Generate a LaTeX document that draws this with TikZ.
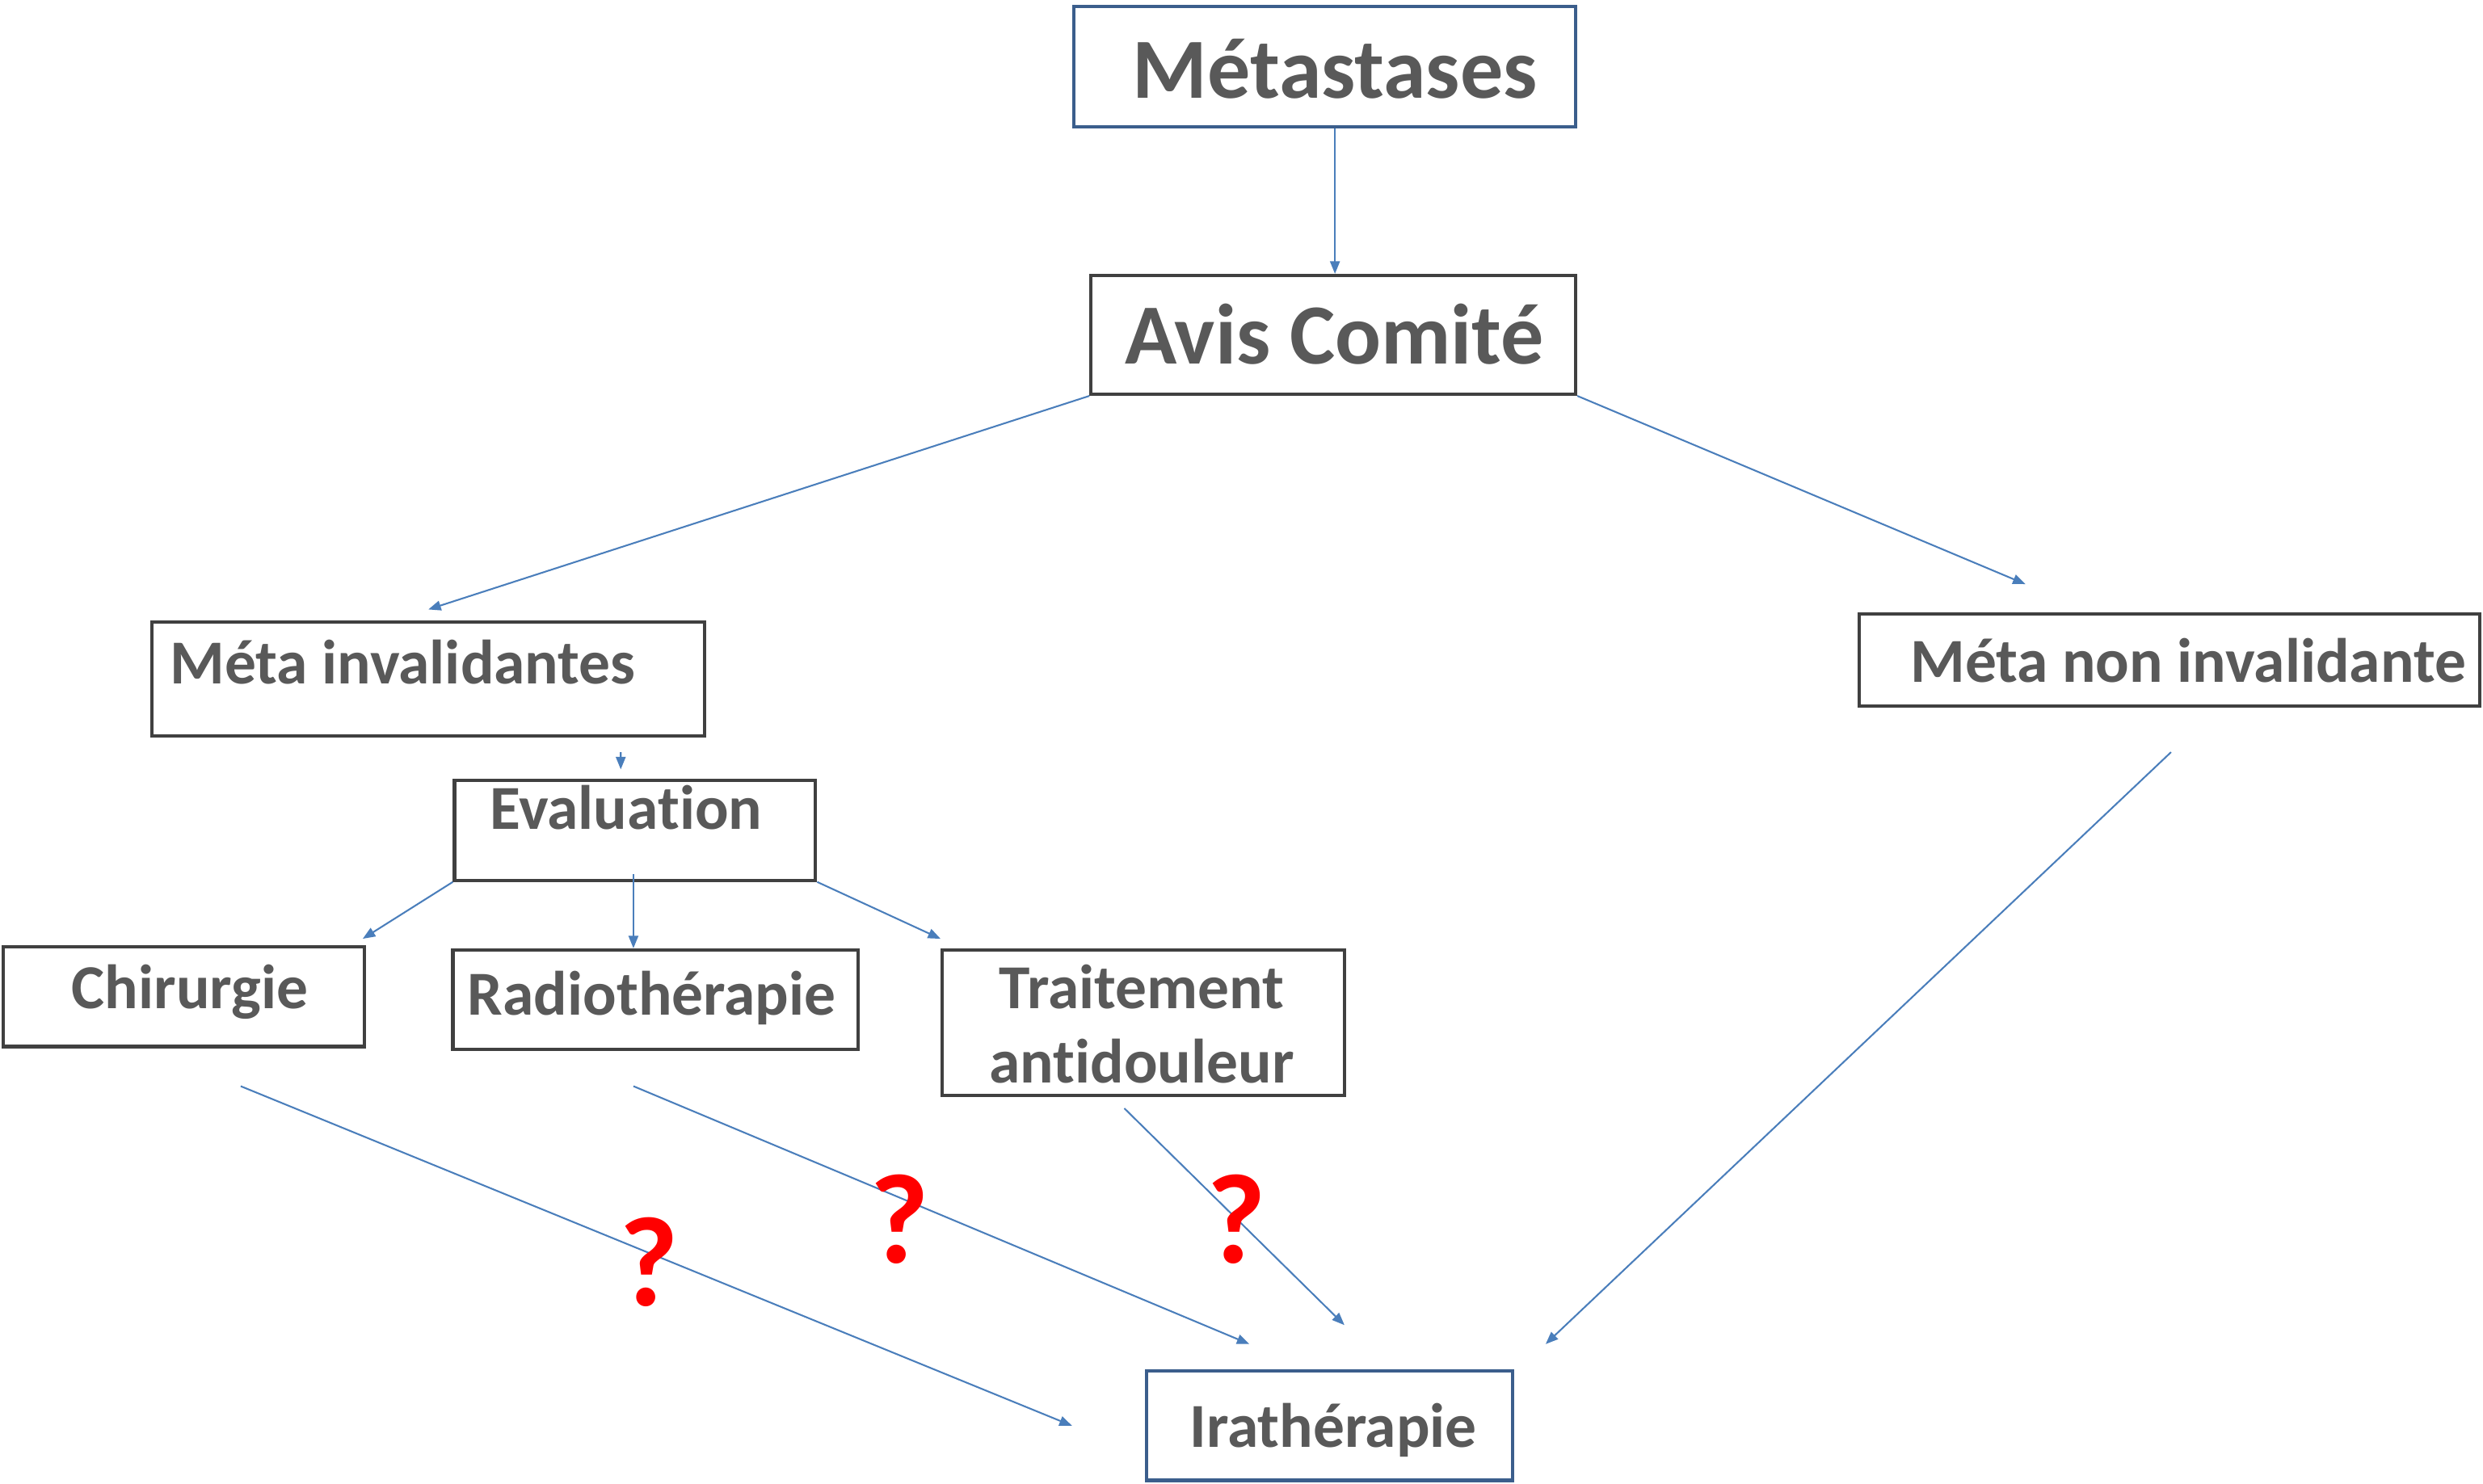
\documentclass[tikz,border=0pt]{standalone}
\usepackage{fontspec}
\setmainfont{Carlito}[Ligatures=NoCommon]
\usepackage{tikz}
\usetikzlibrary{arrows.meta,calc}
\definecolor{gristexte}{HTML}{595959}
\definecolor{griscadre}{HTML}{404040}
\definecolor{bleucadre}{HTML}{3B5E8C}
\definecolor{bleufleche}{HTML}{4A7EBB}

\begin{document}
\begin{tikzpicture}[
		boite/.style={draw=griscadre, line width=1.2pt, inner sep=0pt},
		boitebleue/.style={boite, draw=bleucadre},
		texte/.style={text=gristexte, font=\bfseries\fontsize{22.5}{26.6}\selectfont, inner sep=0pt, anchor=base west},
		grand/.style={font=\bfseries\fontsize{30.8}{36}\selectfont},
		fleche/.style={draw=bleufleche, line width=0.6pt, -{Triangle[length=4.5pt,width=3.5pt]}},
		question/.style={text=red, font=\bfseries\fontsize{46}{50}\selectfont, inner sep=0pt}
	]
	\useasboundingbox (0,0) rectangle (31.36,-18.74);
	% cadres
	\node[boitebleue, minimum width=6.34cm, minimum height=1.52cm] (met) at (16.73,-0.84) {};
	\node[boite, minimum width=6.12cm, minimum height=1.50cm] (avis) at (16.84,-4.23) {};
	\node[boite, minimum width=6.98cm, minimum height=1.44cm] (inv) at (5.41,-8.58) {};
	\node[boite, minimum width=7.84cm, minimum height=1.16cm] (noninv) at (27.40,-8.34) {};
	\node[boite, minimum width=4.56cm, minimum height=1.26cm] (eva) at (8.02,-10.49) {};
	\node[boite, minimum width=4.56cm, minimum height=1.26cm] (chir) at (2.32,-12.59) {};
	\node[boite, minimum width=5.12cm, minimum height=1.26cm] (radio) at (8.28,-12.63) {};
	\node[boite, minimum width=5.08cm, minimum height=1.84cm] (trait) at (14.44,-12.92) {};
	\node[boitebleue, minimum width=4.62cm, minimum height=1.38cm] (ira) at (16.79,-18.01) {};
	% textes
	\node[texte, grand] (tmet) at (14.30,-1.24) {Métastases};
	\node[texte, grand] (tavis) at (14.20,-4.60) {Avis Comité};
	\node[texte] (tinv) at (2.14,-8.64) {Méta invalidantes};
	\node[texte] (tnoninv) at (24.12,-8.62) {Méta non invalidante};
	\node[texte] (teva) at (6.18,-10.48) {Evaluation};
	\node[texte] (tchir) at (0.90,-12.74) {Chirurgie};
	\node[texte] (tradio) at (5.90,-12.82) {Radiothérapie};
	\node[texte, anchor=base, align=center] (ttrait) at (14.42,-13.68) {Traitement\\antidouleur};
	\node[texte] (tira) at (15.02,-18.28) {Irathérapie};
	% fleches
	\draw[fleche] ($(met.south)+(0.13,0)$) -- ($(avis.north)+(0.02,0)$);
	\draw[fleche] (avis.south west) -- ($(inv.north)+(0,0.14)$);
	\draw[fleche] (avis.south east) -- ($(noninv.north)+(-1.82,0.36)$);
	\draw[fleche] ($(inv.south)+(2.43,-0.18)$) -- ($(eva.north)+(-0.18,0.12)$);
	\draw[fleche] (eva.south west) -- ($(chir.north east)+(-0.04,0.08)$);
	\draw[fleche] ($(eva.south)+(-0.02,0.10)$) -- ($(radio.north)+(-0.28,0)$);
	\draw[fleche] (eva.south east) -- ($(trait.north west)+(0,0.12)$);
	\draw[fleche] ($(chir.south)+(0.72,-0.48)$) -- ($(ira.west)+(-0.92,0)$);
	\draw[fleche] ($(radio.south)+(-0.28,-0.44)$) -- ($(ira.north)+(-1.01,0.32)$);
	\draw[fleche] ($(trait.south)+(-0.24,-0.14)$) -- ($(ira.north)+(0.19,0.56)$);
	\draw[fleche] ($(noninv.south)+(0.02,-0.56)$) -- ($(ira.north east)+(0.40,0.32)$);
	% points d'interrogation
	\node[question] (q1) at (8.20,-15.94) {?};
	\node[question] (q2) at (11.36,-15.40) {?};
	\node[question] (q3) at (15.62,-15.40) {?};
\end{tikzpicture}
\end{document}
